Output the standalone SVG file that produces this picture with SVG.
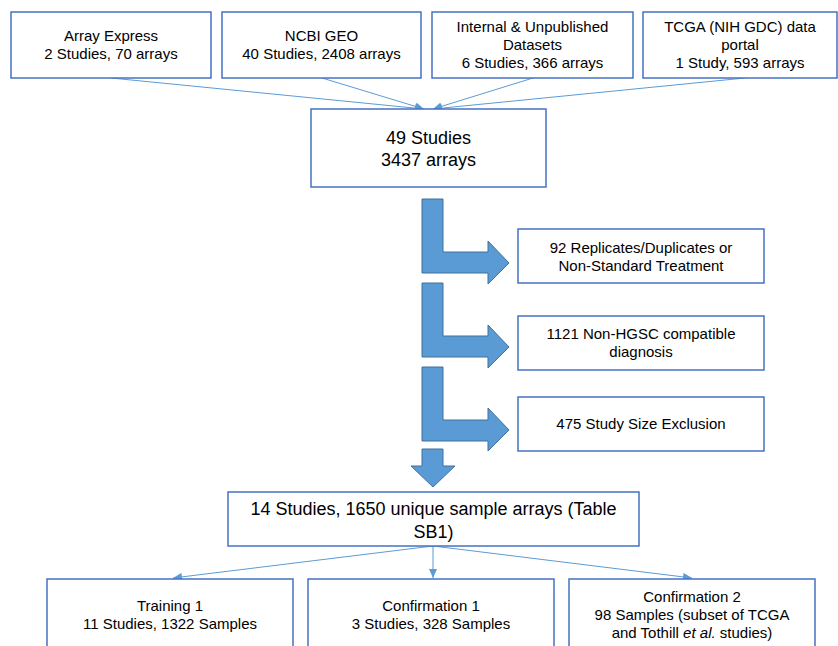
<svg xmlns="http://www.w3.org/2000/svg" width="838" height="646" viewBox="0 0 838 646">
<style>
.box{fill:#fff;stroke:#4472C4;stroke-width:1.5}
.t{font-family:"Liberation Sans",Arial,sans-serif;font-size:15px;fill:#000;text-anchor:middle}
.tl{font-family:"Liberation Sans",Arial,sans-serif;font-size:18px;fill:#000;text-anchor:middle}
.con{stroke:#5B9BD5;stroke-width:1;fill:none}
.blk{fill:#5B9BD5;stroke:#41719C;stroke-width:1}
</style>
<defs>
<marker id="ah" markerUnits="userSpaceOnUse" markerWidth="10" markerHeight="8" refX="9" refY="4" orient="auto">
<path d="M0,0 L9,4 L0,8 Z" fill="#5B9BD5"/>
</marker>
</defs>
<rect width="838" height="646" fill="#fff"/>
<g id="connectors">
<line class="con" x1="111" y1="78" x2="424" y2="109" marker-end="url(#ah)"/>
<line class="con" x1="322" y1="78" x2="424" y2="109" marker-end="url(#ah)"/>
<line class="con" x1="533" y1="78" x2="433" y2="109" marker-end="url(#ah)"/>
<line class="con" x1="745" y1="78" x2="433" y2="109" marker-end="url(#ah)"/>
<line class="con" x1="433" y1="546" x2="173" y2="578" marker-end="url(#ah)"/>
<line class="con" x1="433" y1="546" x2="433" y2="578" marker-end="url(#ah)"/>
<line class="con" x1="433" y1="546" x2="692" y2="578" marker-end="url(#ah)"/>
</g>
<g id="arrows">
<path class="blk" d="M422,199 L443,199 L443,252 L488,252 L488,241 L509,263 L488,284 L488,273 L422,273 Z"/>
<path class="blk" d="M422,283 L443,283 L443,336 L488,336 L488,325 L509,347 L488,368 L488,357 L422,357 Z"/>
<path class="blk" d="M422,367 L443,367 L443,420 L488,420 L488,408 L509,430 L488,451 L488,441 L422,441 Z"/>
<path class="blk" d="M422,449 L443,449 L443,466 L455,466 L433,487 L411,466 L422,466 Z"/>
</g>
<g id="n-arrayexpress">
<rect class="box" x="11" y="12" width="200" height="66"/>
<text class="t" x="111" y="41">Array Express</text>
<text class="t" x="111" y="59">2 Studies, 70 arrays</text>
</g>
<g id="n-ncbigeo">
<rect class="box" x="222" y="12" width="199" height="66"/>
<text class="t" x="321.5" y="41">NCBI GEO</text>
<text class="t" x="321.5" y="59">40 Studies, 2408 arrays</text>
</g>
<g id="n-internal">
<rect class="box" x="432" y="12" width="201" height="66"/>
<text class="t" x="532.5" y="32">Internal &amp; Unpublished</text>
<text class="t" x="532.5" y="50">Datasets</text>
<text class="t" x="532.5" y="68">6 Studies, 366 arrays</text>
</g>
<g id="n-tcga">
<rect class="box" x="643" y="12" width="194" height="66"/>
<text class="t" x="740" y="32">TCGA (NIH GDC) data</text>
<text class="t" x="740" y="50">portal</text>
<text class="t" x="740" y="68">1 Study, 593 arrays</text>
</g>
<g id="n-49studies">
<rect class="box" x="311" y="109" width="235" height="78"/>
<text class="tl" x="428.5" y="144">49 Studies</text>
<text class="tl" x="428.5" y="166">3437 arrays</text>
</g>
<g id="n-replicates">
<rect class="box" x="518" y="229" width="246" height="54"/>
<text class="t" x="641" y="253">92 Replicates/Duplicates or</text>
<text class="t" x="641" y="271">Non-Standard Treatment</text>
</g>
<g id="n-nonhgsc">
<rect class="box" x="518" y="316" width="246" height="54"/>
<text class="t" x="641" y="339">1121 Non-HGSC compatible</text>
<text class="t" x="641" y="357">diagnosis</text>
</g>
<g id="n-studysize">
<rect class="box" x="518" y="397" width="246" height="54"/>
<text class="t" x="641" y="429">475 Study Size Exclusion</text>
</g>
<g id="n-14studies">
<rect class="box" x="228" y="492" width="411" height="54"/>
<text class="tl" x="433.5" y="515">14 Studies, 1650 unique sample arrays (Table</text>
<text class="tl" x="433.5" y="538">SB1)</text>
</g>
<g id="n-training1">
<rect class="box" x="47" y="579" width="246" height="90"/>
<text class="t" x="170" y="611">Training 1</text>
<text class="t" x="170" y="629">11 Studies, 1322 Samples</text>
</g>
<g id="n-confirmation1">
<rect class="box" x="308" y="579" width="246" height="90"/>
<text class="t" x="431" y="611">Confirmation 1</text>
<text class="t" x="431" y="629">3 Studies, 328 Samples</text>
</g>
<g id="n-confirmation2">
<rect class="box" x="569" y="579" width="246" height="90"/>
<text class="t" x="692" y="602">Confirmation 2</text>
<text class="t" x="692" y="620">98 Samples (subset of TCGA</text>
<text class="t" x="692" y="638">and Tothill <tspan font-style="italic">et al.</tspan> studies)</text>
</g>
</svg>
